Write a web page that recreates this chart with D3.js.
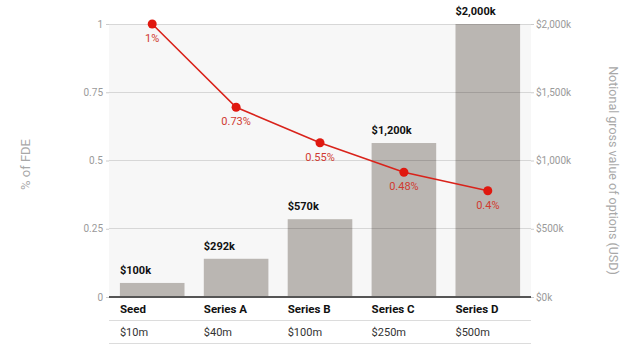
<!DOCTYPE html>
<html><head><meta charset="utf-8">
<script src="https://cdn.jsdelivr.net/npm/d3@7"></script>
<style>
html,body{margin:0;padding:0;background:#fff;}
svg{display:block;font-family:Roboto,"Liberation Sans",Arial,sans-serif;}
</style></head>
<body>
<svg id="chart" width="641" height="347"></svg>
<script>
const categories = ["Seed","Series A","Series B","Series C","Series D"];
const valuations = ["$10m","$40m","$100m","$250m","$500m"];
const optionValues = [103, 280, 570, 1128, 2000];          // $k, bars (right axis)
const optionLabels = ["$100k","$292k","$570k","$1,200k","$2,000k"];
const fdeValues = [1, 0.695, 0.565, 0.457, 0.389];          // line (left axis)
const fdeLabels = ["1%","0.73%","0.55%","0.48%","0.4%"];
const leftTicks = [0, 0.25, 0.5, 0.75, 1];
const rightTicks = [0, 500, 1000, 1500, 2000];

const svg = d3.select("#chart");
const L = 109, R = 531, T = 24, B = 297;

const x = d3.scaleBand().domain(categories).range([L, R]).paddingInner(0.23).paddingOuter(0.13);
const yL = d3.scaleLinear().domain([0, 1]).range([B, T]);
const yR = d3.scaleLinear().domain([0, 2000]).range([B, T]);

// plot background
svg.append("rect").attr("x", L).attr("y", T).attr("width", R - L).attr("height", B - T).attr("fill", "#f7f7f7");

// bars
svg.append("g").selectAll("rect").data(categories).join("rect")
  .attr("x", d => x(d)).attr("width", x.bandwidth())
  .attr("y", (d, i) => yR(optionValues[i]))
  .attr("height", (d, i) => B - yR(optionValues[i]))
  .attr("fill", "#bab6b2");

// gridlines
svg.append("g").selectAll("line").data(leftTicks.filter(t => t > 0)).join("line")
  .attr("x1", L).attr("x2", R).attr("y1", d => yL(d)).attr("y2", d => yL(d))
  .attr("stroke", "rgba(0,0,0,0.13)").attr("stroke-width", 1).attr("shape-rendering", "crispEdges");

// left axis
const axL = svg.append("g").attr("transform", `translate(${L},0)`)
  .call(d3.axisLeft(yL).tickValues(leftTicks).tickSize(3).tickPadding(3).tickFormat(d => d3.format("")(d)));
axL.select(".domain").remove();
axL.selectAll(".tick line").attr("stroke", "#ccc");
axL.selectAll(".tick text").attr("fill", "#9a9a9a").style("font-size", "10px").style("font-family", "Roboto,Arial,sans-serif");

// right axis
const axR = svg.append("g").attr("transform", `translate(${R},0)`)
  .call(d3.axisRight(yR).tickValues(rightTicks).tickSize(3).tickPadding(2).tickFormat(d => "$" + d3.format(",")(d) + "k"));
axR.select(".domain").remove();
axR.selectAll(".tick line").attr("stroke", "#ccc");
axR.selectAll(".tick text").attr("fill", "#9a9a9a").style("font-size", "10px").style("font-family", "Roboto,Arial,sans-serif");

// baseline
svg.append("line").attr("x1", L).attr("x2", R).attr("y1", B).attr("y2", B)
  .attr("stroke", "#555").attr("stroke-width", 2);

// table lines
[320.5, 343.5].forEach(yy => {
  svg.append("line").attr("x1", L).attr("x2", R).attr("y1", yy).attr("y2", yy)
    .attr("stroke", "#dcdcdc").attr("stroke-width", 1);
});

// bar value labels
svg.append("g").selectAll("text").data(categories).join("text")
  .attr("x", d => x(d)).attr("y", (d, i) => yR(optionValues[i]) - 9)
  .attr("fill", "#111").style("font-size", "11px").style("font-weight", "700")
  .text((d, i) => optionLabels[i]);

// category labels
svg.append("g").selectAll("text").data(categories).join("text")
  .attr("x", d => x(d)).attr("y", 313)
  .attr("fill", "#111").style("font-size", "11.5px").style("font-weight", "700")
  .text(d => d);

// valuation row
svg.append("g").selectAll("text").data(categories).join("text")
  .attr("x", d => x(d)).attr("y", 336)
  .attr("fill", "#333").style("font-size", "11px")
  .text((d, i) => valuations[i]);

// line
const cx = d => x(d) + x.bandwidth() / 2;
const line = d3.line().x(d => cx(d)).y((d, i) => yL(fdeValues[i]));
svg.append("path").datum(categories).attr("d", line)
  .attr("fill", "none").attr("stroke", "#d9231b").attr("stroke-width", 1.6);
svg.append("g").selectAll("circle").data(categories).join("circle")
  .attr("cx", cx).attr("cy", (d, i) => yL(fdeValues[i])).attr("r", 4.5)
  .attr("fill", "#e0180f");
svg.append("g").selectAll("text").data(categories).join("text")
  .attr("x", cx).attr("y", (d, i) => yL(fdeValues[i]) + 18)
  .attr("text-anchor", "middle").attr("fill", "#d03a30").style("font-size", "11px")
  .text((d, i) => fdeLabels[i]);

// axis titles
svg.append("text").attr("transform", `translate(30,${(T + B) / 2 + 4}) rotate(-90)`)
  .attr("text-anchor", "middle").attr("fill", "#a8a8a8").style("font-size", "13px")
  .text("% of FDE");
svg.append("text").attr("transform", `translate(609,${(T + B) / 2 + 10}) rotate(90)`)
  .attr("text-anchor", "middle").attr("fill", "#a8a8a8").style("font-size", "12.5px")
  .text("Notional gross value of options (USD)");
</script>
</body></html>
